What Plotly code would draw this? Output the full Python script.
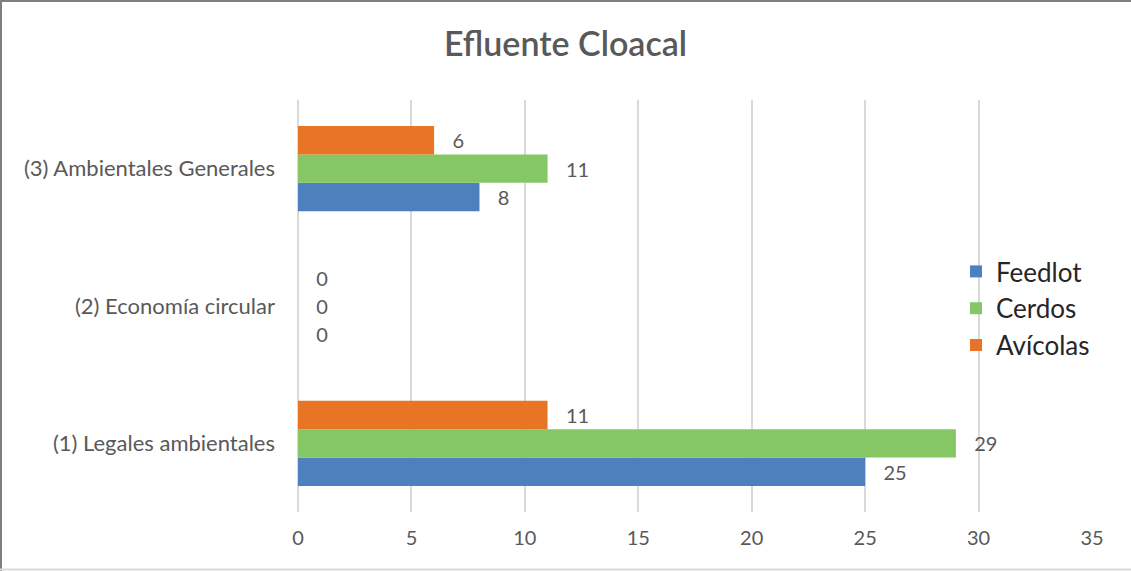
import plotly.graph_objects as go

categories = ["(1) Legales ambientales", "(2) Economía circular", "(3) Ambientales Generales"]
feedlot = [25, 0, 8]
cerdos = [29, 0, 11]
avicolas = [11, 0, 6]
x_ticks = [0, 5, 10, 15, 20, 25, 30, 35]

W, H = 1131, 571
ml, mr, mt, mb = 298, 39, 100, 59
pw = W - ml - mr
ph = H - mt - mb

font = "Lato"
grey = "#595959"

fig = go.Figure()
series = [("Feedlot", feedlot, "#4E80BD"),
          ("Cerdos", cerdos, "#86C765"),
          ("Avícolas", avicolas, "#E87425")]
for name, vals, col in series:
    fig.add_trace(go.Bar(
        y=categories, x=vals, name=name, orientation="h",
        marker=dict(color=col, line=dict(width=0)),
        text=vals, texttemplate="   %{x}", textposition="outside",
        textfont=dict(family=font, size=20, color=grey),
        cliponaxis=False,
    ))

fig.update_layout(
    width=W, height=H,
    margin=dict(l=ml, r=mr, t=mt, b=mb, pad=0),
    paper_bgcolor="white", plot_bgcolor="white",
    barmode="group", bargap=0.38, bargroupgap=0,
    font=dict(family=font, color=grey),
    title=dict(text="Efluente Cloacal", x=0.5, xanchor="center", y=1 - 44 / H, yanchor="middle",
               font=dict(family=font, size=34, color=grey, weight=600)),
    xaxis=dict(range=[0, 35], tickvals=x_ticks, showgrid=True, gridcolor="#d9d9d9", gridwidth=2,
               zeroline=True, zerolinecolor="#d9d9d9", zerolinewidth=2, showline=False,
               tickfont=dict(family=font, size=20, color=grey), ticks="", ticklabelstandoff=12),
    yaxis=dict(showgrid=False, zeroline=False, showline=False, ticks="",
               tickfont=dict(family=font, size=22, color=grey), ticklabelstandoff=22),
    legend=dict(x=(956 - ml) / pw, y=1 - (248 - mt) / ph, xanchor="left", yanchor="top",
                traceorder="normal", font=dict(family=font, size=26, color="#262626"),
                itemwidth=30, tracegroupgap=4, bgcolor="rgba(0,0,0,0)"),
    showlegend=True,
)

# outer frame of the chart: dark top and left edge, light bottom edge
def px_x(p):
    return (p - ml) / pw

def px_y(p):
    return 1 - (p - mt) / ph

frame = [((0, 1), (W, 1), "#7f7f7f"),
         ((1, 0), (1, H), "#7f7f7f"),
         ((0, H - 1.5), (W, H - 1.5), "#d9d9d9")]
for (xa, ya), (xb, yb), col in frame:
    fig.add_shape(type="line", xref="paper", yref="paper",
                  x0=px_x(xa), y0=px_y(ya), x1=px_x(xb), y1=px_y(yb),
                  line=dict(color=col, width=2), layer="above")

fig.write_html("out.html", config={"displayModeBar": False},
               post_script="document.body.style.margin='0';")
